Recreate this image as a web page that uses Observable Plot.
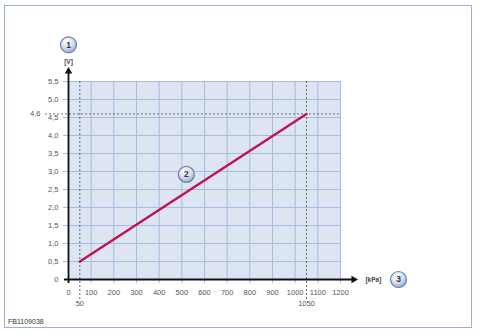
<!DOCTYPE html>
<html><head><meta charset="utf-8">
<script src="https://cdn.jsdelivr.net/npm/d3@7"></script>
<script src="https://cdn.jsdelivr.net/npm/@observablehq/plot@0.6"></script>
<style>
body{margin:0;background:#fff;font-family:"Liberation Sans",Arial,sans-serif;}
#wrap{position:relative;width:480px;height:334px;overflow:hidden;}
#chart{position:absolute;left:0;top:0;}
#border{position:absolute;left:4px;top:5px;width:466px;height:321px;border:1.5px solid #9cafd6;}
#code{position:absolute;left:8px;top:318px;font-size:7px;color:#333;}
</style></head><body>
<div id="wrap"><div id="chart"></div><div id="border"></div><div id="code">FB1109038</div></div>
<script>
// data
const pressureKPa = [50, 1050];
const voltageV = [0.5, 4.6];
const xTicks = [0, 100, 200, 300, 400, 500, 600, 700, 800, 900, 1000, 1100, 1200];
const yTicks = [0, 0.5, 1, 1.5, 2, 2.5, 3, 3.5, 4, 4.5, 5, 5.5];
const yTickLabels = ["0", "0,5", "1,0", "1,5", "2,0", "2,5", "3,0", "3,5", "4,0", "4,5", "5,0", "5,5"];
const refX = [50, 1050];
const refXLabels = ["50", "1050"];
const refY = [4.6];
const refYLabels = ["4,6"];
const calloutLabels = ["1", "2", "3"];
const calloutX = [0, 520, 1456];
const calloutY = [6.52, 2.92, 0];
const unitLabels = ["[V]", "[kPa]"];
const unitX = [0, 1345];
const unitY = [6.05, 0];

const line = pressureKPa.map((p, i) => ({p, v: voltageV[i]}));
const callouts = calloutLabels.map((l, i) => ({l, x: calloutX[i], y: calloutY[i]}));
const units = unitLabels.map((l, i) => ({l, x: unitX[i], y: unitY[i]}));

const defs = () => {
  const ns = "http://www.w3.org/2000/svg";
  const d = document.createElementNS(ns, "defs");
  d.innerHTML = `<radialGradient id="bub" cx="0.4" cy="0.3" r="0.75">
    <stop offset="0" stop-color="#ffffff"/><stop offset="0.55" stop-color="#d3ddef"/><stop offset="1" stop-color="#8fa3cc"/></radialGradient>`;
  return d;
};

const txt = {fontSize: 7.5, fill: "#555", fontFamily: "Liberation Sans, Arial, sans-serif"};

const chart = Plot.plot({
  width: 480, height: 334,
  marginLeft: 68, marginRight: 140, marginTop: 81, marginBottom: 55,
  x: {domain: [0, 1200]},
  y: {domain: [0, 5.5]},
  style: {background: "transparent", fontFamily: "Liberation Sans, Arial, sans-serif", overflow: "visible"},
  marks: [
    defs,
    Plot.frame({fill: "#dde5f2", stroke: null}),
    Plot.ruleX(xTicks.filter(d => d > 0), {stroke: "#a9bae3", strokeWidth: 1, insetBottom: -4}),
    Plot.ruleY(yTicks.filter(d => d > 0), {stroke: "#a9bae3", strokeWidth: 1, insetLeft: -5}),
    Plot.ruleX(refX, {stroke: "#555", strokeWidth: 0.9, strokeDasharray: "2,2", insetBottom: -21}),
    Plot.ruleY(refY, {stroke: "#666", strokeWidth: 0.9, strokeDasharray: "2,2", insetLeft: -23}),
    Plot.axisX({ticks: xTicks, tickSize: 0, tickPadding: 10, ...txt, tickFormat: d => String(d)}),
    Plot.axisX({ticks: refX, tickSize: 0, tickPadding: 21, ...txt, tickFormat: d => refXLabels[refX.indexOf(d)], label: null}),
    Plot.axisY({ticks: yTicks, tickSize: 0, tickPadding: 10, ...txt, tickFormat: d => yTickLabels[yTicks.indexOf(d)], label: null}),
    Plot.axisY({ticks: refY, tickSize: 0, tickPadding: 28, ...txt, tickFormat: d => refYLabels[refY.indexOf(d)], label: null}),
    Plot.link([0], {x1: -20, x2: 1255, y1: 0, y2: 0, stroke: "#111", strokeWidth: 1.8}),
    Plot.link([0], {x1: 0, x2: 0, y1: -0.1, y2: 5.75, stroke: "#111", strokeWidth: 1.8}),
    Plot.dot([0], {x: 1258, y: 0, symbol: "triangle2", r: 3.6, fill: "#111", stroke: null, rotate: 90}),
    Plot.dot([0], {x: 0, y: 5.78, symbol: "triangle2", r: 3.6, fill: "#111", stroke: null}),
    Plot.line(line, {x: "p", y: "v", stroke: "#c0125c", strokeWidth: 2.4}),
    Plot.text(units, {x: "x", y: "y", text: "l", fontSize: 6.5, fill: "#444", fontWeight: "bold"}),
    Plot.dot(callouts, {x: "x", y: "y", r: 8, fill: "url(#bub)", stroke: "#6f80a8", strokeWidth: 1.2}),
    Plot.text(callouts, {x: "x", y: "y", text: "l", fontSize: 8.5, fontWeight: "bold", fill: "#333"})
  ]
});
document.getElementById("chart").appendChild(chart);
</script>
</body></html>
